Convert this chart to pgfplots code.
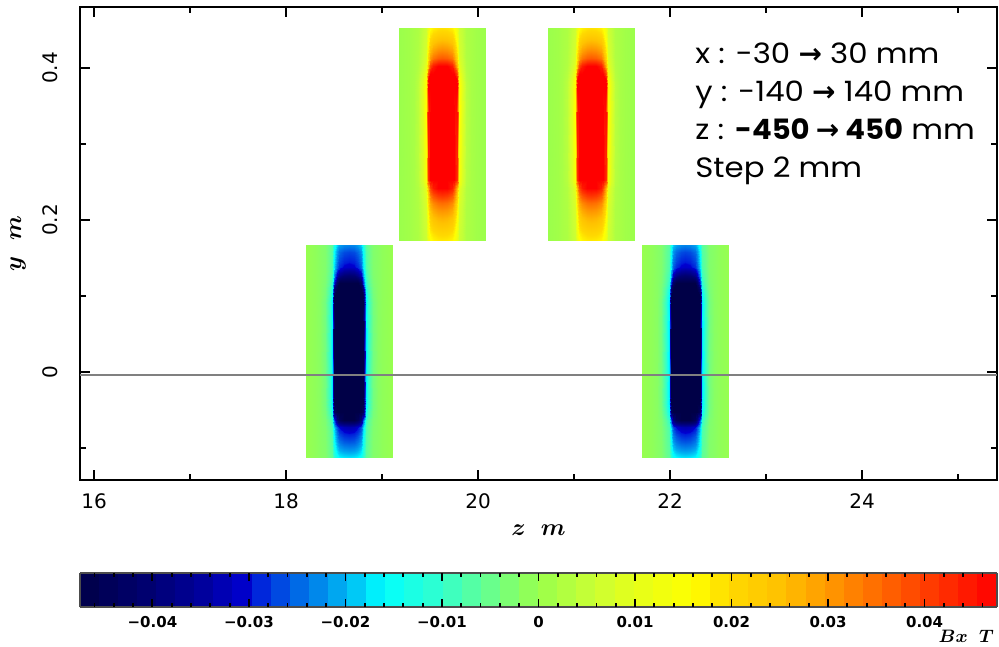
\documentclass[border=0pt]{standalone}
\usepackage{amsmath}
\usepackage{fontspec}
\setmainfont{DejaVu Sans}
\newfontfamily\dv{DejaVu Sans}
\newfontfamily\pop[FakeStretch=1.1]{Poppins}
\newfontfamily\popb[FakeStretch=1.04]{Poppins}
\usepackage{pgfplots}
\usepackage{pgfplotstable}
\pgfplotsset{compat=1.18}
\usetikzlibrary{calc}
\newcommand\arr{{\dv\bfseries →}}
\pgfplotsset{colormap={bx}{rgb(0pt)=(0,0,0.28); rgb(75pt)=(0,0,0.45); rgb(130pt)=(0,0,0.62); rgb(175pt)=(0,0,0.82); rgb(180pt)=(0,0.1,0.85); rgb(225pt)=(0,0.4,0.9); rgb(275pt)=(0,0.7,0.95); rgb(315pt)=(0,1,1); rgb(375pt)=(0.2,1,0.8); rgb(435pt)=(0.45,1,0.5); rgb(475pt)=(0.6,1,0.3); rgb(535pt)=(0.8,1,0.2); rgb(575pt)=(0.9,1,0.1); rgb(635pt)=(1,1,0); rgb(675pt)=(1,0.85,0); rgb(725pt)=(1,0.76,0); rgb(775pt)=(1,0.6,0); rgb(875pt)=(1,0.25,0); rgb(950pt)=(1,0,0)}}

% Bx (T) on a half grid: dz (m) from rectangle centre, dy (m) from rectangle centre
\pgfplotstableread{
dz dy c
0 -0.14 -0.0170
0.05 -0.14 -0.0167
0.1 -0.14 -0.0157
0.125 -0.14 -0.0141
0.15 -0.14 -0.0105
0.175 -0.14 -0.0057
0.2 -0.14 -0.0048
0.25 -0.14 -0.0023
0.3 -0.14 -0.0018
0.35 -0.14 -0.0010
0.45 -0.14 -0.0002
0 -0.13 -0.0220
0.05 -0.13 -0.0216
0.1 -0.13 -0.0202
0.125 -0.13 -0.0180
0.15 -0.13 -0.0130
0.175 -0.13 -0.0063
0.2 -0.13 -0.0051
0.25 -0.13 -0.0024
0.3 -0.13 -0.0018
0.35 -0.13 -0.0010
0.45 -0.13 -0.0002
0 -0.12 -0.0260
0.05 -0.12 -0.0256
0.1 -0.12 -0.0238
0.125 -0.12 -0.0212
0.15 -0.12 -0.0150
0.175 -0.12 -0.0069
0.2 -0.12 -0.0053
0.25 -0.12 -0.0024
0.3 -0.12 -0.0018
0.35 -0.12 -0.0010
0.45 -0.12 -0.0002
0 -0.11 -0.0290
0.05 -0.11 -0.0285
0.1 -0.11 -0.0265
0.125 -0.11 -0.0235
0.15 -0.11 -0.0165
0.175 -0.11 -0.0073
0.2 -0.11 -0.0055
0.25 -0.11 -0.0025
0.3 -0.11 -0.0018
0.35 -0.11 -0.0010
0.45 -0.11 -0.0002
0 -0.10 -0.0330
0.05 -0.10 -0.0324
0.1 -0.10 -0.0301
0.125 -0.10 -0.0266
0.15 -0.10 -0.0185
0.175 -0.10 -0.0078
0.2 -0.10 -0.0057
0.25 -0.10 -0.0026
0.3 -0.10 -0.0018
0.35 -0.10 -0.0010
0.45 -0.10 -0.0002
0 -0.09 -0.0490
0.05 -0.09 -0.0481
0.1 -0.09 -0.0445
0.125 -0.09 -0.0391
0.15 -0.09 -0.0265
0.175 -0.09 -0.0099
0.2 -0.09 -0.0067
0.25 -0.09 -0.0029
0.3 -0.09 -0.0018
0.35 -0.09 -0.0010
0.45 -0.09 -0.0002
0 -0.08 -0.0840
0.05 -0.08 -0.0824
0.1 -0.08 -0.0760
0.125 -0.08 -0.0664
0.15 -0.08 -0.0440
0.175 -0.08 -0.0144
0.2 -0.08 -0.0088
0.25 -0.08 -0.0036
0.3 -0.08 -0.0018
0.35 -0.08 -0.0010
0.45 -0.08 -0.0002
0 -0.07 -0.1040
0.05 -0.07 -0.1020
0.1 -0.07 -0.0940
0.125 -0.07 -0.0820
0.15 -0.07 -0.0540
0.175 -0.07 -0.0170
0.2 -0.07 -0.0100
0.25 -0.07 -0.0040
0.3 -0.07 -0.0018
0.35 -0.07 -0.0010
0.45 -0.07 -0.0002
0 -0.06 -0.1040
0.05 -0.06 -0.1020
0.1 -0.06 -0.0940
0.125 -0.06 -0.0820
0.15 -0.06 -0.0540
0.175 -0.06 -0.0170
0.2 -0.06 -0.0100
0.25 -0.06 -0.0040
0.3 -0.06 -0.0018
0.35 -0.06 -0.0010
0.45 -0.06 -0.0002
0 0.06 -0.1040
0.05 0.06 -0.1020
0.1 0.06 -0.0940
0.125 0.06 -0.0820
0.15 0.06 -0.0540
0.175 0.06 -0.0170
0.2 0.06 -0.0100
0.25 0.06 -0.0040
0.3 0.06 -0.0018
0.35 0.06 -0.0010
0.45 0.06 -0.0002
0 0.07 -0.0990
0.05 0.07 -0.0971
0.1 0.07 -0.0895
0.125 0.07 -0.0781
0.15 0.07 -0.0515
0.175 0.07 -0.0164
0.2 0.07 -0.0097
0.25 0.07 -0.0039
0.3 0.07 -0.0018
0.35 0.07 -0.0010
0.45 0.07 -0.0002
0 0.08 -0.0790
0.05 0.08 -0.0775
0.1 0.08 -0.0715
0.125 0.08 -0.0625
0.15 0.08 -0.0415
0.175 0.08 -0.0138
0.2 0.08 -0.0085
0.25 0.08 -0.0035
0.3 0.08 -0.0018
0.35 0.08 -0.0010
0.45 0.08 -0.0002
0 0.09 -0.0540
0.05 0.09 -0.0530
0.1 0.09 -0.0490
0.125 0.09 -0.0430
0.15 0.09 -0.0290
0.175 0.09 -0.0105
0.2 0.09 -0.0070
0.25 0.09 -0.0030
0.3 0.09 -0.0018
0.35 0.09 -0.0010
0.45 0.09 -0.0002
0 0.10 -0.0400
0.05 0.10 -0.0393
0.1 0.10 -0.0364
0.125 0.10 -0.0321
0.15 0.10 -0.0220
0.175 0.10 -0.0087
0.2 0.10 -0.0062
0.25 0.10 -0.0027
0.3 0.10 -0.0018
0.35 0.10 -0.0010
0.45 0.10 -0.0002
0 0.11 -0.0310
0.05 0.11 -0.0305
0.1 0.11 -0.0283
0.125 0.11 -0.0251
0.15 0.11 -0.0175
0.175 0.11 -0.0075
0.2 0.11 -0.0056
0.25 0.11 -0.0025
0.3 0.11 -0.0018
0.35 0.11 -0.0010
0.45 0.11 -0.0002
0 0.12 -0.0290
0.05 0.12 -0.0285
0.1 0.12 -0.0265
0.125 0.12 -0.0235
0.15 0.12 -0.0165
0.175 0.12 -0.0073
0.2 0.12 -0.0055
0.25 0.12 -0.0025
0.3 0.12 -0.0018
0.35 0.12 -0.0010
0.45 0.12 -0.0002
0 0.13 -0.0270
0.05 0.13 -0.0265
0.1 0.13 -0.0247
0.125 0.13 -0.0219
0.15 0.13 -0.0155
0.175 0.13 -0.0070
0.2 0.13 -0.0054
0.25 0.13 -0.0025
0.3 0.13 -0.0018
0.35 0.13 -0.0010
0.45 0.13 -0.0002
0 0.14 -0.0230
0.05 0.14 -0.0226
0.1 0.14 -0.0211
0.125 0.14 -0.0188
0.15 0.14 -0.0135
0.175 0.14 -0.0065
0.2 0.14 -0.0051
0.25 0.14 -0.0024
0.3 0.14 -0.0018
0.35 0.14 -0.0010
0.45 0.14 -0.0002
}\bluetab

\pgfplotstableread{
dz dy c
0 -0.14 0.0180
0.05 -0.14 0.0177
0.1 -0.14 0.0166
0.125 -0.14 0.0149
0.15 -0.14 0.0110
0.175 -0.14 0.0058
0.2 -0.14 0.0048
0.25 -0.14 0.0023
0.3 -0.14 0.0018
0.35 -0.14 0.0010
0.45 -0.14 0.0002
0 -0.13 0.0210
0.05 -0.13 0.0207
0.1 -0.13 0.0193
0.125 -0.13 0.0173
0.15 -0.13 0.0125
0.175 -0.13 0.0062
0.2 -0.13 0.0050
0.25 -0.13 0.0023
0.3 -0.13 0.0018
0.35 -0.13 0.0010
0.45 -0.13 0.0002
0 -0.12 0.0240
0.05 -0.12 0.0236
0.1 -0.12 0.0220
0.125 -0.12 0.0196
0.15 -0.12 0.0140
0.175 -0.12 0.0066
0.2 -0.12 0.0052
0.25 -0.12 0.0024
0.3 -0.12 0.0018
0.35 -0.12 0.0010
0.45 -0.12 0.0002
0 -0.11 0.0270
0.05 -0.11 0.0265
0.1 -0.11 0.0247
0.125 -0.11 0.0219
0.15 -0.11 0.0155
0.175 -0.11 0.0070
0.2 -0.11 0.0054
0.25 -0.11 0.0025
0.3 -0.11 0.0018
0.35 -0.11 0.0010
0.45 -0.11 0.0002
0 -0.10 0.0310
0.05 -0.10 0.0305
0.1 -0.10 0.0283
0.125 -0.10 0.0251
0.15 -0.10 0.0175
0.175 -0.10 0.0075
0.2 -0.10 0.0056
0.25 -0.10 0.0025
0.3 -0.10 0.0018
0.35 -0.10 0.0010
0.45 -0.10 0.0002
0 -0.09 0.0350
0.05 -0.09 0.0344
0.1 -0.09 0.0319
0.125 -0.09 0.0282
0.15 -0.09 0.0195
0.175 -0.09 0.0080
0.2 -0.09 0.0059
0.25 -0.09 0.0026
0.3 -0.09 0.0018
0.35 -0.09 0.0010
0.45 -0.09 0.0002
0 -0.08 0.0420
0.05 -0.08 0.0412
0.1 -0.08 0.0382
0.125 -0.08 0.0336
0.15 -0.08 0.0230
0.175 -0.08 0.0089
0.2 -0.08 0.0063
0.25 -0.08 0.0028
0.3 -0.08 0.0018
0.35 -0.08 0.0010
0.45 -0.08 0.0002
0 -0.07 0.0490
0.05 -0.07 0.0481
0.1 -0.07 0.0445
0.125 -0.07 0.0391
0.15 -0.07 0.0265
0.175 -0.07 0.0099
0.2 -0.07 0.0067
0.25 -0.07 0.0029
0.3 -0.07 0.0018
0.35 -0.07 0.0010
0.45 -0.07 0.0002
0 -0.06 0.0790
0.05 -0.06 0.0775
0.1 -0.06 0.0715
0.125 -0.06 0.0625
0.15 -0.06 0.0415
0.175 -0.06 0.0138
0.2 -0.06 0.0085
0.25 -0.06 0.0035
0.3 -0.06 0.0018
0.35 -0.06 0.0010
0.45 -0.06 0.0002
0 0.06 0.1040
0.05 0.06 0.1020
0.1 0.06 0.0940
0.125 0.06 0.0820
0.15 0.06 0.0540
0.175 0.06 0.0170
0.2 0.06 0.0100
0.25 0.06 0.0040
0.3 0.06 0.0018
0.35 0.06 0.0010
0.45 0.06 0.0002
0 0.07 0.0940
0.05 0.07 0.0922
0.1 0.07 0.0850
0.125 0.07 0.0742
0.15 0.07 0.0490
0.175 0.07 0.0157
0.2 0.07 0.0094
0.25 0.07 0.0038
0.3 0.07 0.0018
0.35 0.07 0.0010
0.45 0.07 0.0002
0 0.08 0.0740
0.05 0.08 0.0726
0.1 0.08 0.0670
0.125 0.08 0.0586
0.15 0.08 0.0390
0.175 0.08 0.0131
0.2 0.08 0.0082
0.25 0.08 0.0034
0.3 0.08 0.0018
0.35 0.08 0.0010
0.45 0.08 0.0002
0 0.09 0.0490
0.05 0.09 0.0481
0.1 0.09 0.0445
0.125 0.09 0.0391
0.15 0.09 0.0265
0.175 0.09 0.0099
0.2 0.09 0.0067
0.25 0.09 0.0029
0.3 0.09 0.0018
0.35 0.09 0.0010
0.45 0.09 0.0002
0 0.10 0.0370
0.05 0.10 0.0363
0.1 0.10 0.0337
0.125 0.10 0.0297
0.15 0.10 0.0205
0.175 0.10 0.0083
0.2 0.10 0.0060
0.25 0.10 0.0027
0.3 0.10 0.0018
0.35 0.10 0.0010
0.45 0.10 0.0002
0 0.11 0.0320
0.05 0.11 0.0314
0.1 0.11 0.0292
0.125 0.11 0.0258
0.15 0.11 0.0180
0.175 0.11 0.0076
0.2 0.11 0.0057
0.25 0.11 0.0026
0.3 0.11 0.0018
0.35 0.11 0.0010
0.45 0.11 0.0002
0 0.12 0.0270
0.05 0.12 0.0265
0.1 0.12 0.0247
0.125 0.12 0.0219
0.15 0.12 0.0155
0.175 0.12 0.0070
0.2 0.12 0.0054
0.25 0.12 0.0025
0.3 0.12 0.0018
0.35 0.12 0.0010
0.45 0.12 0.0002
0 0.13 0.0230
0.05 0.13 0.0226
0.1 0.13 0.0211
0.125 0.13 0.0188
0.15 0.13 0.0135
0.175 0.13 0.0065
0.2 0.13 0.0051
0.25 0.13 0.0024
0.3 0.13 0.0018
0.35 0.13 0.0010
0.45 0.13 0.0002
0 0.14 0.0190
0.05 0.14 0.0187
0.1 0.14 0.0175
0.125 0.14 0.0157
0.15 0.14 0.0115
0.175 0.14 0.0060
0.2 0.14 0.0049
0.25 0.14 0.0023
0.3 0.14 0.0018
0.35 0.14 0.0010
0.45 0.14 0.0002
}\redtab

% colour-bar tick marks: position (T) and length (pt)
\pgfplotstableread{
p L
-0.046 2
-0.044 2
-0.042 2
-0.040 4
-0.038 2
-0.036 2
-0.034 2
-0.032 2
-0.030 4
-0.028 2
-0.026 2
-0.024 2
-0.022 2
-0.020 4
-0.018 2
-0.016 2
-0.014 2
-0.012 2
-0.010 4
-0.008 2
-0.006 2
-0.004 2
-0.002 2
0 4
0.002 2
0.004 2
0.006 2
0.008 2
0.010 4
0.012 2
0.014 2
0.016 2
0.018 2
0.020 4
0.022 2
0.024 2
0.026 2
0.028 2
0.030 4
0.032 2
0.034 2
0.036 2
0.038 2
0.040 4
0.042 2
0.044 2
0.046 2
}\ticktab

\begin{document}
\begin{tikzpicture}
\begin{axis}[
  name=ax, scale only axis, width=458.5pt, height=236.5pt,
  xmin=15.854, xmax=25.406, ymin=-0.142, ymax=0.480,
  xtick={16,18,20,22,24}, xticklabels={16,18,20,22,24},
  minor xtick={17,19,21,23,25},
  ytick={0,0.2,0.4}, yticklabels={0,0.2,0.4},
  minor ytick={-0.1,0.1,0.3},
  tick align=inside, major tick length=5pt, minor tick length=3pt,
  every tick/.style={black, line width=0.8pt},
  axis line style={black, line width=0.8pt},
  xticklabel style={font=\dv\fontsize{10}{12}\selectfont, anchor=north, inner sep=0pt, outer sep=6.85pt},
  yticklabel style={font=\dv\fontsize{10}{12}\selectfont, rotate=90, anchor=south, inner sep=0pt, outer sep=11.3pt},
  every axis x label/.style={at={(axis description cs:0.5,0)}, anchor=center, yshift=-25pt, font=\fontsize{12}{14}\selectfont},
  every axis y label/.style={at={(axis description cs:-0.0676,0.5)}, anchor=center, rotate=90, font=\fontsize{12}{14}\selectfont},
  xlabel={$\boldsymbol{z\ \ m}$}, ylabel={$\boldsymbol{y\ \ m}$},
  colormap name=bx, point meta min=-0.0475, point meta max=0.0475,
  colorbar horizontal, colorbar sampled,
  colorbar style={
    at={(parent axis.south west)}, anchor=north west, yshift=-38pt,
    scale only axis, width=458.5pt, height=17pt,
    samples=49, axis on top, scaled x ticks=false,
    xtick={-0.04,-0.03,-0.02,-0.01,0,0.01,0.02,0.03,0.04},
    xticklabels={−0.04,−0.03,−0.02,−0.01,0,0.01,0.02,0.03,0.04},
    xticklabel pos=lower, major tick length=0pt, minor tick length=0pt,
    axis line style={black!70, line width=0.6pt},
    xticklabel style={font=\dv\bfseries\fontsize{7.5}{8}\selectfont, anchor=north, inner sep=0pt, outer sep=4.8pt},
    every axis x label/.style={at={(axis description cs:1,0)}, anchor=east, xshift=2pt, yshift=-14.5pt, font=\fontsize{9}{10}\selectfont},
    xlabel={$\boldsymbol{Bx\ \ T}$},
  },
]
\addplot[surf, shader=interp, mesh/cols=11, point meta=explicit] table[x expr=18.655+\thisrow{dz}, y expr=0.0275+\thisrow{dy}, meta=c] {\bluetab};
\addplot[surf, shader=interp, mesh/cols=11, point meta=explicit] table[x expr=18.655-\thisrow{dz}, y expr=0.0275+\thisrow{dy}, meta=c] {\bluetab};
\addplot[surf, shader=interp, mesh/cols=11, point meta=explicit] table[x expr=22.16+\thisrow{dz}, y expr=0.0275+\thisrow{dy}, meta=c] {\bluetab};
\addplot[surf, shader=interp, mesh/cols=11, point meta=explicit] table[x expr=22.16-\thisrow{dz}, y expr=0.0275+\thisrow{dy}, meta=c] {\bluetab};
\addplot[surf, shader=interp, mesh/cols=11, point meta=explicit] table[x expr=19.63+\thisrow{dz}, y expr=0.3125+\thisrow{dy}, meta=c] {\redtab};
\addplot[surf, shader=interp, mesh/cols=11, point meta=explicit] table[x expr=19.63-\thisrow{dz}, y expr=0.3125+\thisrow{dy}, meta=c] {\redtab};
\addplot[surf, shader=interp, mesh/cols=11, point meta=explicit] table[x expr=21.18+\thisrow{dz}, y expr=0.3125+\thisrow{dy}, meta=c] {\redtab};
\addplot[surf, shader=interp, mesh/cols=11, point meta=explicit] table[x expr=21.18-\thisrow{dz}, y expr=0.3125+\thisrow{dy}, meta=c] {\redtab};
\addplot[gray, line width=1pt] coordinates {(15.854,-0.004) (25.406,-0.004)};
\node[anchor=base west, inner sep=0pt, font=\pop\fontsize{14}{16}\selectfont] at (axis cs:22.26,0.4053) {x : -30 \arr{} 30 mm};
\node[anchor=base west, inner sep=0pt, font=\pop\fontsize{14}{16}\selectfont] at (axis cs:22.26,0.3555) {y : -140 \arr{} 140 mm};
\node[anchor=base west, inner sep=0pt, font=\pop\fontsize{14}{16}\selectfont] at (axis cs:22.26,0.3058) {z : {\popb\bfseries -450 \arr{} 450} mm};
\node[anchor=base west, inner sep=0pt, font=\pop\fontsize{14}{16}\selectfont] at (axis cs:22.26,0.2561) {Step 2 mm};
\end{axis}
% colour-bar tick marks, bottom side
\begin{axis}[
  at={(ax.south west)}, anchor=north west, yshift=-46.5pt,
  scale only axis, width=458.5pt, height=17pt, hide axis,
  xmin=-0.0475, xmax=0.0475, ymin=0, ymax=17,
]
\addplot[ycomb, black, line width=0.9pt, mark=none] table[x=p, y=L] {\ticktab};
\end{axis}
% colour-bar tick marks, top side
\begin{axis}[
  at={(ax.south west)}, anchor=north west, yshift=-46.5pt,
  scale only axis, width=458.5pt, height=17pt, hide axis, y dir=reverse,
  xmin=-0.0475, xmax=0.0475, ymin=0, ymax=17,
]
\addplot[ycomb, black, line width=0.9pt, mark=none] table[x=p, y=L] {\ticktab};
\end{axis}
\pgfresetboundingbox
\path[use as bounding box] ($(ax.south west)+(-40pt,-83.5pt)$) rectangle ($(ax.north east)+(1pt,3.5pt)$);
\end{tikzpicture}
\end{document}
